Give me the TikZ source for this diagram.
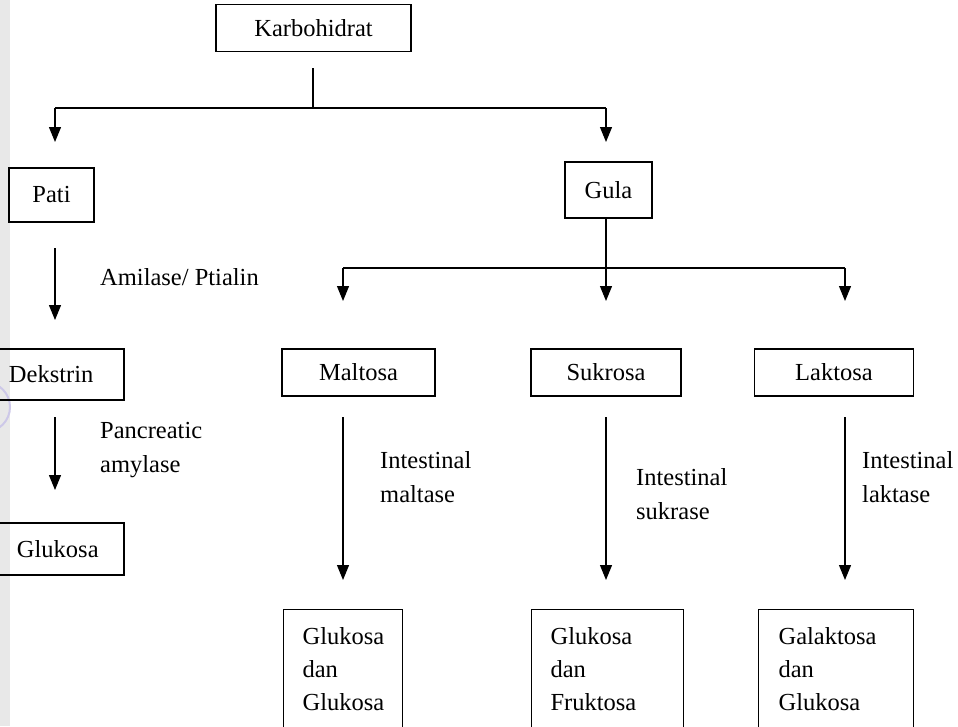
\documentclass[tikz,border=0pt]{standalone}
\usepackage{fontspec}
\setmainfont{Liberation Serif}
\usetikzlibrary{arrows.meta}
\newcommand{\topstrut}[1]{\rule{0pt}{#1}}
\newcommand{\botstrut}[1]{\rule[-#1]{0pt}{0pt}}
\begin{document}
\begin{tikzpicture}[x=1pt,y=-1pt,
  box/.style={draw, line width=1.2pt, inner sep=0pt, font=\fontsize{24.5}{33}\selectfont},
  tall/.style={box, anchor=north west, align=left},
  lbl/.style={anchor=base west, inner sep=0pt, font=\fontsize{24.5}{34}\selectfont},
  ln/.style={line width=1.2pt},
  arr/.style={line width=1.2pt, -{Triangle[width=12pt,length=15pt]}}]
\useasboundingbox (0,0) rectangle (958,726);
\fill[white] (0,0) rectangle (958,726);
\fill[gray!18] (0,0) rectangle (10,726);
\draw[line width=2pt, color={rgb,255:red,205;green,200;blue,232}] (-15,407) circle (25);
% top
\node[box, minimum width=195pt, minimum height=47pt] (karb) at (313.5,28) {Karbohidrat};
\coordinate (t0) at (313,68);
\coordinate (t1) at (313,108);
\coordinate (tl) at (55,108);
\coordinate (tr) at (606,108);
\coordinate (pa) at (55,142);
\coordinate (ga) at (606,142);
\draw[ln] (t0) -- (t1);
\draw[ln] (tl) -- (tr);
\draw[arr] (tl) -- (pa);
\draw[arr] (tr) -- (ga);
% left branch
\node[box, minimum width=85pt, minimum height=54pt] (pati) at (51.5,195) {Pati};
\node[box, minimum width=87pt, minimum height=56pt] (gula) at (608.5,190) {Gula};
\coordinate (a1s) at (55,248);
\coordinate (a1e) at (55,320);
\draw[arr] (a1s) -- (a1e);
\node[lbl] (amil) at (100,285) {Amilase/ Ptialin};
\node[box, minimum width=126pt, minimum height=51pt, text width=126pt, align=left] (dek) at (61,374.5) {\hspace{11pt}Dekstrin};
\coordinate (a2s) at (55,417);
\coordinate (a2e) at (55,490);
\draw[arr] (a2s) -- (a2e);
\node[lbl] (panc1) at (100,438) {Pancreatic};
\node[lbl] (panc2) at (100,472) {amylase};
\node[box, minimum width=126pt, minimum height=52pt, text width=126pt, align=left] (gluk) at (61,549) {\hspace{19pt}Glukosa};
% sugar branch
\coordinate (g0) at (606,218);
\coordinate (g1) at (606,268);
\coordinate (gl) at (343,268);
\coordinate (gr) at (845,268);
\draw[ln] (g0) -- (g1);
\draw[ln] (gl) -- (gr);
\coordinate (m0) at (343,301);
\coordinate (s0) at (606,301);
\coordinate (l0) at (845,301);
\draw[arr] (gl) -- (m0);
\draw[arr] (g1) -- (s0);
\draw[arr] (gr) -- (l0);
\node[box, minimum width=153pt, minimum height=47pt] (malt) at (358.5,372.5) {Maltosa};
\node[box, minimum width=150pt, minimum height=47pt] (sukr) at (606,372.5) {Sukrosa};
\node[box, minimum width=159pt, minimum height=47pt] (lakt) at (834,372.5) {Laktosa};
\coordinate (m1) at (343,417);
\coordinate (m2) at (343,580);
\coordinate (s1) at (606,417);
\coordinate (s2) at (606,580);
\coordinate (l1) at (845,417);
\coordinate (l2) at (845,580);
\draw[arr] (m1) -- (m2);
\draw[arr] (s1) -- (s2);
\draw[arr] (l1) -- (l2);
\node[lbl] (im1) at (380,468) {Intestinal};
\node[lbl] (im2) at (380,502) {maltase};
\node[lbl] (is1) at (636,485) {Intestinal};
\node[lbl] (is2) at (636,519) {sukrase};
\node[lbl] (il1) at (862,468) {Intestinal};
\node[lbl] (il2) at (862,502) {laktase};
\node[tall, text width=119pt] (r1) at (283,609) {\topstrut{35pt}\hspace{19pt}Glukosa\\\hspace{19pt}dan\\\hspace{19pt}Glukosa\botstrut{24pt}};
\node[tall, text width=152pt] (r2) at (531,609) {\topstrut{35pt}\hspace{19pt}Glukosa\\\hspace{19pt}dan\\\hspace{19pt}Fruktosa\botstrut{24pt}};
\node[tall, text width=155pt] (r3) at (758,609) {\topstrut{35pt}\hspace{20pt}Galaktosa\\\hspace{20pt}dan\\\hspace{20pt}Glukosa\botstrut{24pt}};
\end{tikzpicture}
\end{document}
